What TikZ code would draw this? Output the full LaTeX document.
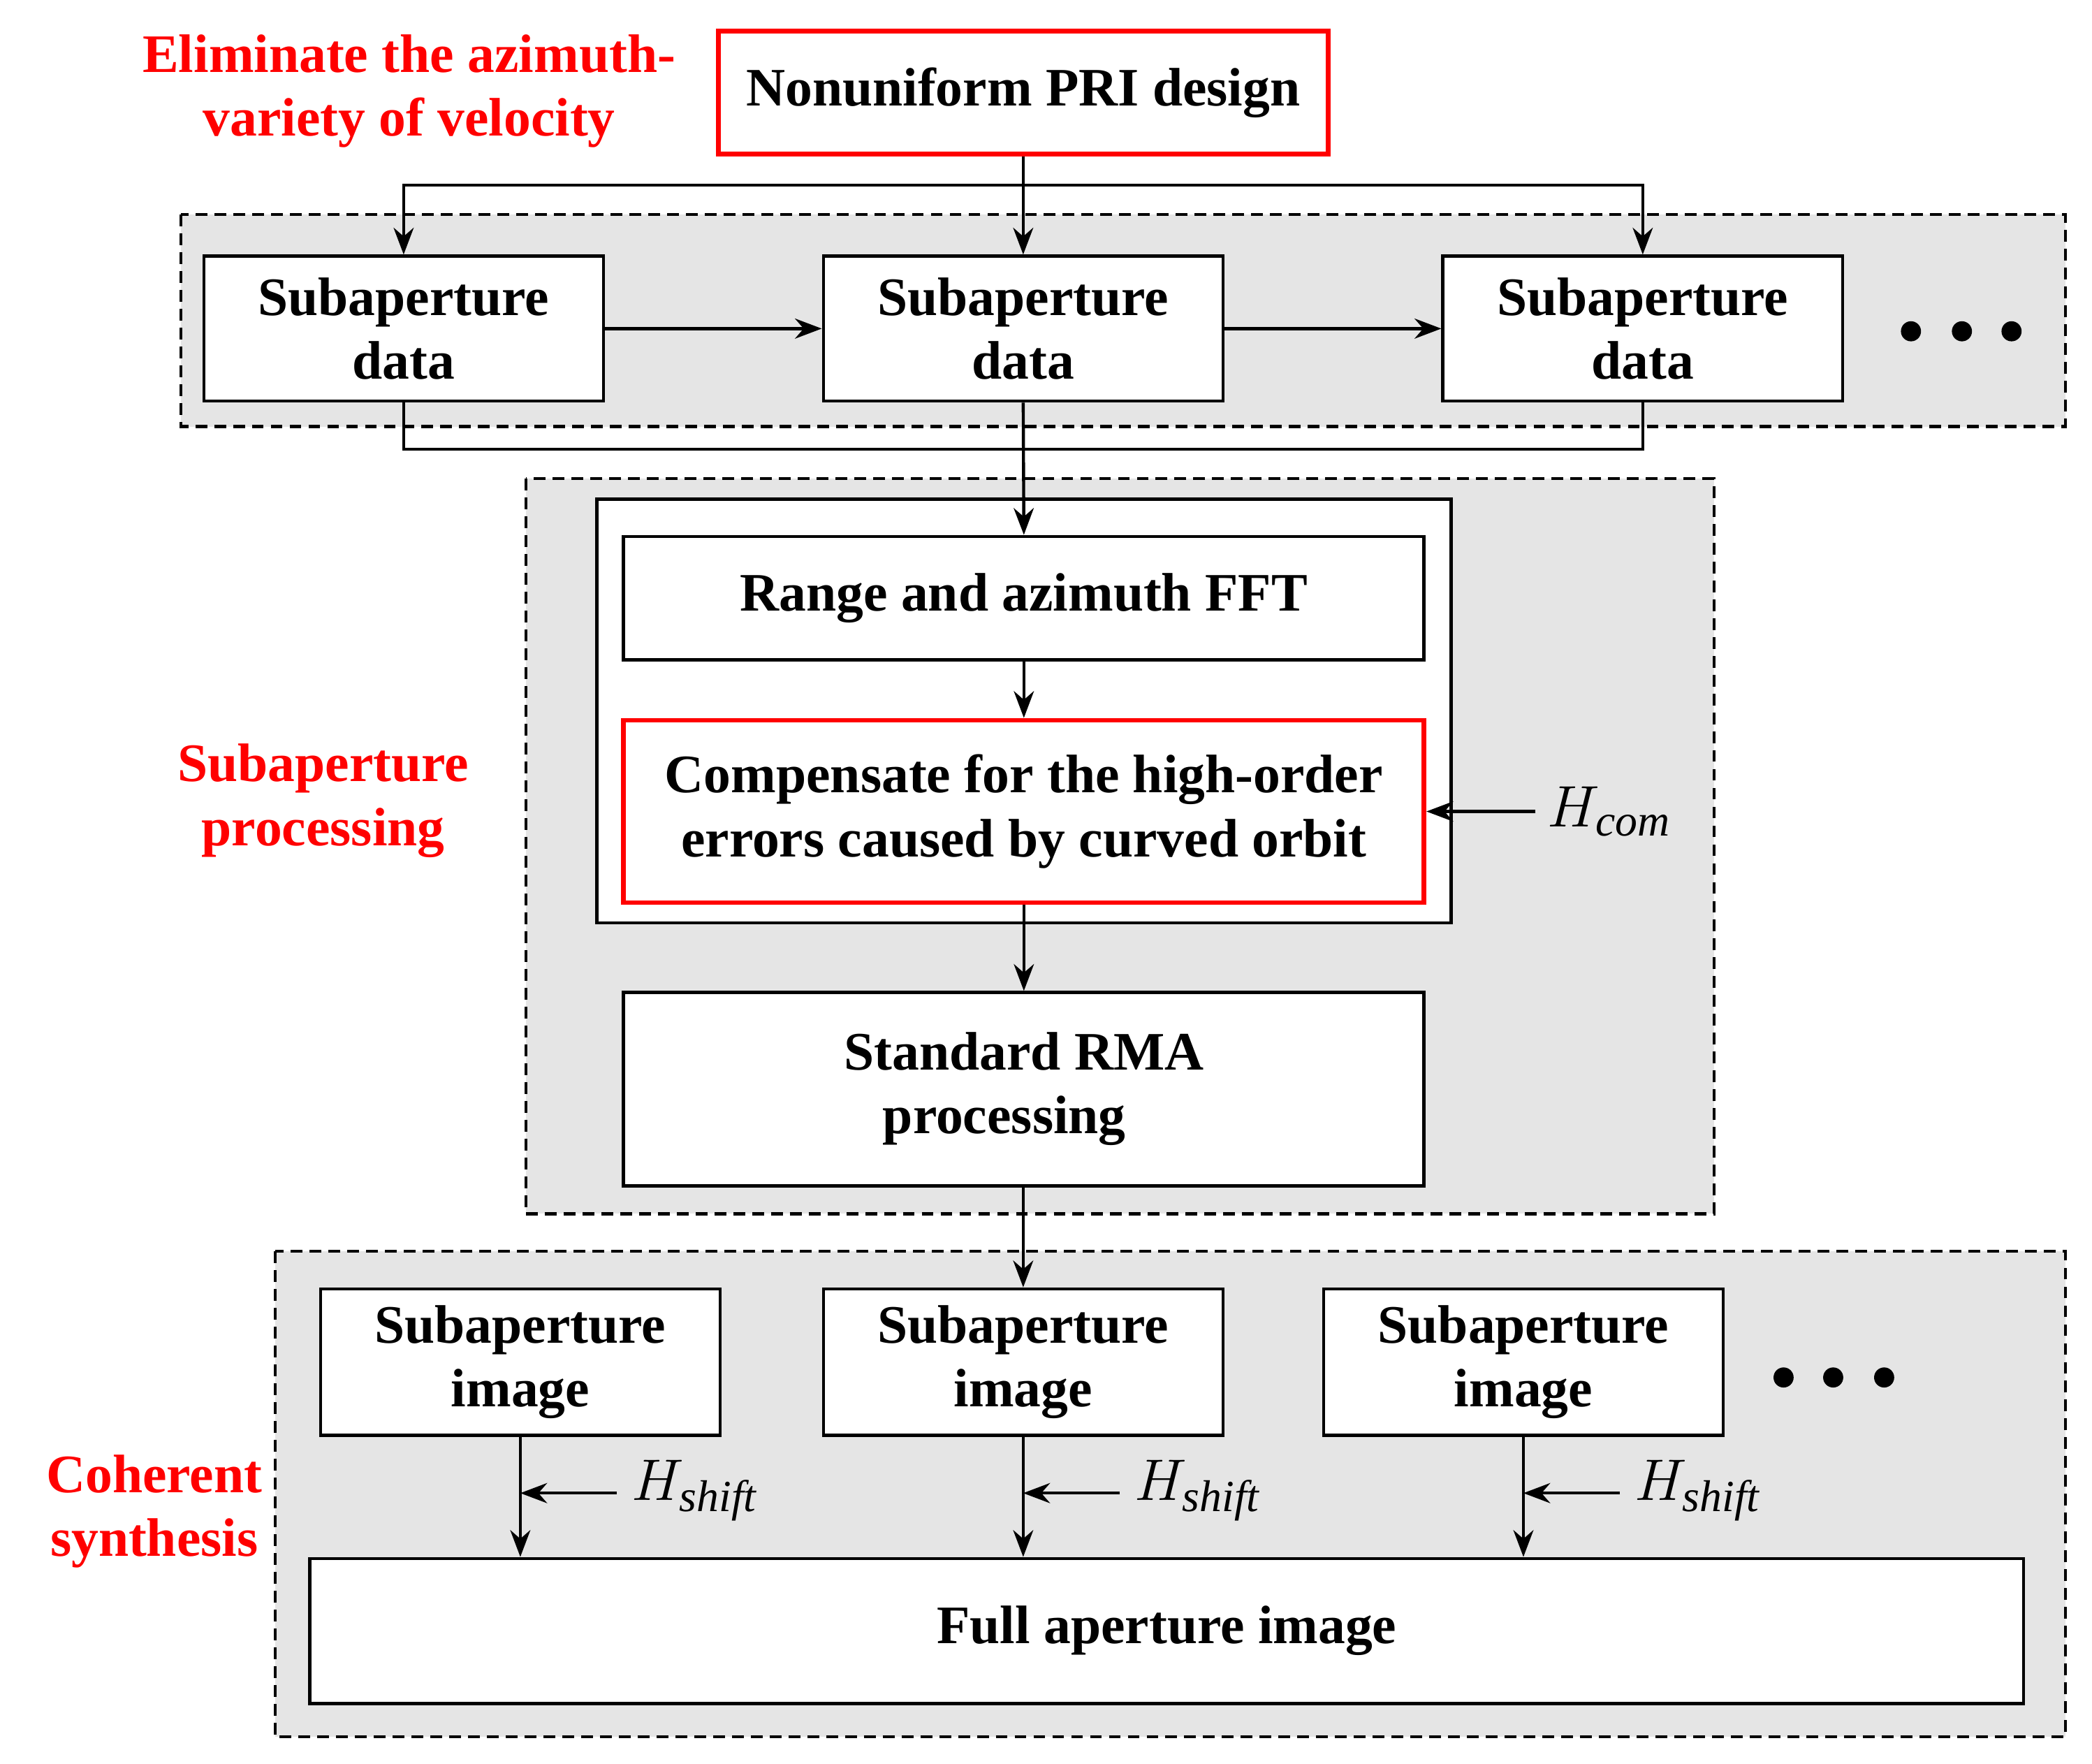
\documentclass[tikz,border=0pt]{standalone}
\usepackage{fontspec}
\setmainfont{Liberation Serif}
\usetikzlibrary{arrows.meta,positioning,calc}

\begin{document}
\begin{tikzpicture}[
    x=0.02cm, y=-0.02cm,
    box/.style={rectangle, draw=black, line width=1.4pt, fill=white, align=center,
        font=\fontsize{23}{27}\selectfont\bfseries, inner sep=0pt},
    redbox/.style={box, draw=red, line width=2pt},
    region/.style={draw=black, dash pattern=on 5pt off 3pt, line width=1.2pt, fill=gray!20},
    note/.style={text=red, align=center, font=\fontsize{23}{27}\selectfont\bfseries},
    flow/.style={-{Stealth[length=4mm,width=3mm]}, line width=1.3pt},
    dot/.style={circle, fill=black, inner sep=0pt, minimum size=0.3cm},
]
    \useasboundingbox (0,0) rectangle (1560,1315);
    % regions
    \draw[region] (135,160) rectangle (1540,318);
    \draw[region] (392,357) rectangle (1278,905);
    \draw[region] (205,933) rectangle (1540,1295);
    \draw[line width=1.4pt, fill=white] (445,372) rectangle (1082,688);

    \node[redbox, minimum width=9.1cm, minimum height=1.84cm] (pri) at (763,69) {Nonuniform PRI design};
    \node[note] (elim) at (305,68) {Eliminate the azimuth-\\variety of velocity};

    \foreach \x/\n in {301/d1, 763/d2, 1225/d3}
        \node[box, minimum width=5.96cm, minimum height=2.16cm] (\n) at (\x,245) {Subaperture\\data};
    \foreach \x/\n in {1425/a1, 1463/a2, 1500/a3}
        \node[dot] (\n) at (\x,247) {};

    \coordinate (split) at (763,138);
    \draw[flow] (pri.south) -- (d2.north);
    \draw[flow] (split) -| (d1.north);
    \draw[flow] (split) -| (d3.north);
    \draw[flow] (d1) -- (d2);
    \draw[flow] (d2) -- (d3);

    \node[box, minimum width=11.94cm, minimum height=1.84cm] (fft) at (763.5,446) {Range and azimuth FFT};
    \node[redbox, minimum width=11.94cm, minimum height=2.72cm] (comp) at (763.5,605) {Compensate for the high-order\\errors caused by curved orbit};
    \node[box, minimum width=11.94cm, minimum height=2.88cm] (rma) at (763.5,812) {Standard RMA\\processing\phantom{A}};
    \node[note] (subp) at (241,597) {Subaperture\\processing};

    \coordinate (join) at (763,335);
    \draw[line width=1.3pt] (d1.south) |- (d3.south |- join) -- (d3.south);
    \draw[flow] (d2.south) -- (fft.north);
    \draw[flow] (fft) -- (comp);
    \draw[flow] (comp) -- (rma);
    \coordinate (hc) at (1145,605);
    \draw[flow] (hc) -- (comp.east);
    \node[font=\fontsize{27}{30}\selectfont, anchor=west] (hcom) at (1148,605) {$H_{\mathit{com}}$};

    \foreach \x/\n in {388/i1, 763/i2, 1136/i3}
        \node[box, minimum width=5.96cm, minimum height=2.18cm] (\n) at (\x,1015.5) {Subaperture\\image};
    \foreach \x/\n in {1330/b1, 1367/b2, 1405/b3}
        \node[dot] (\n) at (\x,1027) {};
    \draw[flow] (rma.south -| i2) -- (i2.north);

    \node[box, minimum width=25.56cm, minimum height=2.16cm] (full) at (870,1216) {Full aperture image};
    \node[note] (coh) at (115,1127) {Coherent\\synthesis};

    \foreach \n in {i1, i2, i3} {
        \draw[flow] (\n.south) -- (\n.south |- full.north);
        \coordinate (s\n) at ($(\n.south)+(72,42)$);
        \draw[flow] (s\n) -- ($(\n.south)+(0,42)$);
        \node[font=\fontsize{27}{30}\selectfont, anchor=west] (h\n) at ($(s\n)+(5,-2)$) {$H_{\mathit{shift}}$};
    }
\end{tikzpicture}
\end{document}
